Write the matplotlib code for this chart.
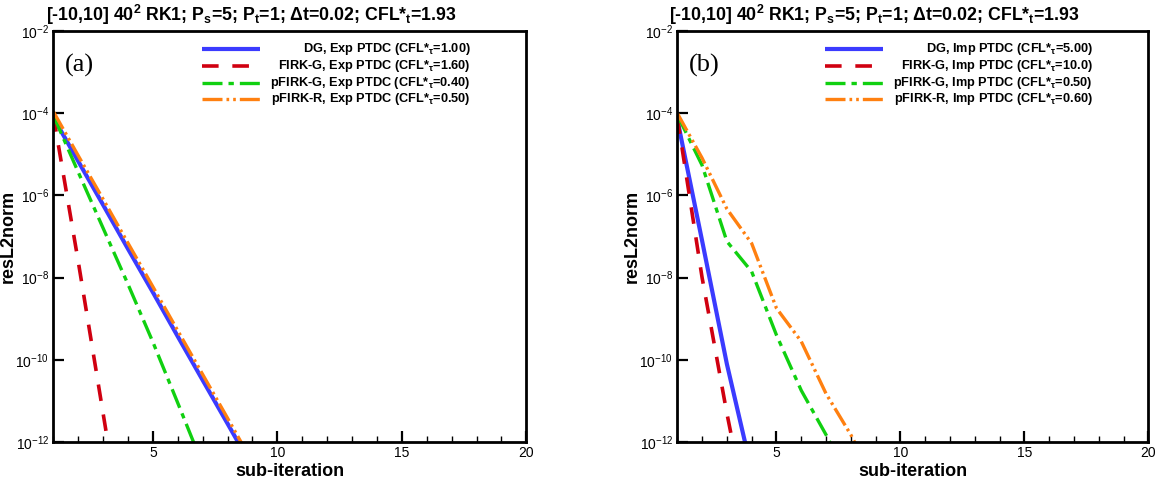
import matplotlib
matplotlib.use("Agg")
import matplotlib.pyplot as plt
from matplotlib.lines import Line2D
from matplotlib.ticker import FixedLocator, LogFormatterMathtext, NullLocator, NullFormatter

plt.rcParams['font.family'] = ['Liberation Sans', 'DejaVu Sans']
plt.rcParams['mathtext.fontset'] = 'custom'
plt.rcParams['mathtext.rm'] = 'Liberation Sans'
plt.rcParams['mathtext.it'] = 'Liberation Sans:italic'
plt.rcParams['mathtext.bf'] = 'Liberation Sans:bold'
plt.rcParams['mathtext.default'] = 'regular'

# ---------------- data ----------------
sub_iter = [1, 2, 3, 4, 5, 6, 7, 8, 9]

# panel (a): explicit pseudo-time
a_dg     = [7.9e-5, 6.8e-6, 5.9e-7, 5.0e-8, 4.4e-9, 3.7e-10, 3.2e-11, 2.8e-12, 2.4e-13]
a_firkg  = [8.9e-5, 2.5e-8, 5.0e-12, 1.0e-15]
a_pfirkg = [8.9e-5, 3.7e-6, 1.6e-7, 6.9e-9, 2.7e-10, 8.9e-12, 2.8e-13]
a_pfirkr = [1.1e-4, 9.3e-6, 8.1e-7, 6.9e-8, 6.0e-9, 5.1e-10, 4.4e-11, 3.8e-12, 3.2e-13]

# panel (b): implicit pseudo-time
b_dg     = [7.1e-5, 7.9e-8, 7.9e-11, 2.0e-13]
b_firkg  = [7.9e-5, 1.0e-8, 5.0e-12, 5.0e-15]
b_pfirkg = [9.1e-5, 5.4e-6, 7.6e-8, 1.4e-8, 4.0e-10, 1.8e-11, 1.5e-12, 1.0e-13]
b_pfirkr = [1.0e-4, 8.1e-6, 4.7e-7, 6.8e-8, 1.8e-9, 2.8e-10, 1.5e-11, 1.5e-12, 1.0e-13]

a_labels = ["DG, Exp PTDC (CFL*$_{\\mathbf{\\tau}}$=1.00)",
            "FIRK-G, Exp PTDC (CFL*$_{\\mathbf{\\tau}}$=1.60)",
            "pFIRK-G, Exp PTDC (CFL*$_{\\mathbf{\\tau}}$=0.40)",
            "pFIRK-R, Exp PTDC (CFL*$_{\\mathbf{\\tau}}$=0.50)"]
b_labels = ["DG, Imp PTDC (CFL*$_{\\mathbf{\\tau}}$=5.00)",
            "FIRK-G, Imp PTDC (CFL*$_{\\mathbf{\\tau}}$=10.0)",
            "pFIRK-G, Imp PTDC (CFL*$_{\\mathbf{\\tau}}$=0.50)",
            "pFIRK-R, Imp PTDC (CFL*$_{\\mathbf{\\tau}}$=0.60)"]

title_text = ("[-10,10] 40$^{\\mathbf{2}}$ RK1; P$_{\\mathbf{s}}$=5; P$_{\\mathbf{t}}$=1; "
              "\u0394t=0.02; CFL*$_{\\mathbf{t}}$=1.93")

x_major = [5, 10, 15, 20]
y_major = [1e-12, 1e-10, 1e-8, 1e-6, 1e-4, 1e-2]

# ---------------- styles ----------------
colors = ['#3b3bff', '#d00010', '#10d010', '#ff8010']
styles = [dict(ls='-', lw=3.0),
          dict(ls=(0, (4.6, 3.8)), lw=2.6),
          dict(ls=(0, (6.0, 1.8, 1.6, 1.8)), lw=2.4),
          dict(ls=(0, (6.0, 1.2, 0.8, 1.2, 0.8, 1.2)), lw=2.4)]

fig = plt.figure(figsize=(11.56, 4.8), dpi=100)
ax_a = fig.add_axes([53.3 / 1156, 38 / 480, 473 / 1156, 411 / 480])
ax_b = fig.add_axes([677.3 / 1156, 38 / 480, 471 / 1156, 411 / 480])


def draw_panel(ax, series, labels, tag, title_x):
    for ys, c, st in zip(series, colors, styles):
        ax.plot(sub_iter[:len(ys)], ys, color=c, **st, solid_capstyle='butt',
                dash_capstyle='butt')
    ax.set_yscale('log')
    ax.set_xlim(1, 20)
    ax.set_ylim(1e-12, 1e-2)
    ax.xaxis.set_major_locator(FixedLocator(x_major))
    ax.xaxis.set_minor_locator(FixedLocator(list(range(1, 21))))
    ax.yaxis.set_major_locator(FixedLocator(y_major))
    ax.yaxis.set_major_formatter(LogFormatterMathtext())
    ax.yaxis.set_minor_locator(NullLocator())
    ax.yaxis.set_minor_formatter(NullFormatter())
    ax.tick_params(which='major', direction='in', length=8, width=1.6,
                   labelsize=10, top=False, right=False, pad=3)
    ax.tick_params(which='minor', direction='in', length=4, width=1.0,
                   top=False, right=False)
    for sp in ax.spines.values():
        sp.set_linewidth(2.0)
    ax.set_xlabel('sub-iteration', fontsize=13, fontweight='bold')
    ax.xaxis.set_label_coords(0.5, -0.05)
    ax.set_ylabel('resL2norm', fontsize=13, fontweight='bold')
    ax.yaxis.set_label_coords(-0.078, 0.5)
    ax.text(title_x, 1.01, title_text, transform=ax.transAxes, ha='center',
            va='bottom', fontsize=12.8, fontweight='bold')
    ax.text(0.025, 0.915, tag, transform=ax.transAxes, ha='left', va='center',
            fontsize=19, family='Liberation Serif')
    # legend (right-aligned labels, handles on the left)
    row_y = [0.955, 0.915, 0.874, 0.834]
    for lab, c, st, yy in zip(labels, colors, styles, row_y):
        ax.add_line(Line2D([0.314, 0.437], [yy, yy], transform=ax.transAxes,
                           color=c, **st, solid_capstyle='butt', dash_capstyle='butt'))
        ax.text(0.882, yy, lab, transform=ax.transAxes, ha='right', va='center',
                fontsize=9.2, fontweight='bold')


draw_panel(ax_a, [a_dg, a_firkg, a_pfirkg, a_pfirkr], a_labels, '(a)', 0.419)
draw_panel(ax_b, [b_dg, b_firkg, b_pfirkg, b_pfirkr], b_labels, '(b)', 0.419)

fig.savefig('out.png', dpi=100)
